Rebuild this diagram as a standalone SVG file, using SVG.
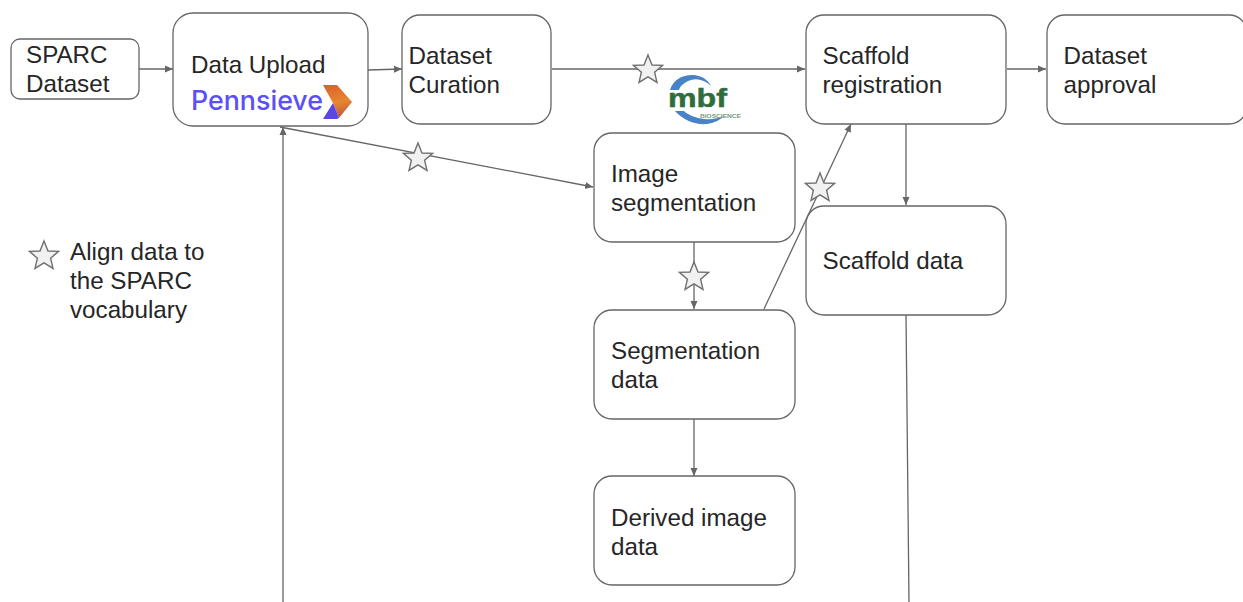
<svg xmlns="http://www.w3.org/2000/svg" width="1243" height="602" viewBox="0 0 1243 602">
<style>
.box{fill:#fff;stroke:#666;stroke-width:1.3}
.t{font-family:"Liberation Sans",Arial,sans-serif;font-size:24.2px;fill:#262626}
.c{fill:none;stroke:#666;stroke-width:1.3}
.star{fill:#f1f1f1;stroke:#707070;stroke-width:1.4}
</style>
<defs>
<marker id="a" markerUnits="userSpaceOnUse" markerWidth="9" markerHeight="9" refX="8" refY="4" orient="auto"><path d="M0 0.5L8 4L0 7.5Z" fill="#666"/></marker>
<polygon id="s" points="0,-15 4,-5 14.6,-4.6 6.6,2.2 9,12.4 0,6.8 -9,12.4 -6.6,2.2 -14.6,-4.6 -4,-5"/>
<linearGradient id="g" x1="0" y1="0" x2="0.2" y2="1"><stop offset="0" stop-color="#d8602c"/><stop offset="0.6" stop-color="#e8862f"/><stop offset="1" stop-color="#c0603f"/></linearGradient>
</defs>
<g id="connectors">
<path class="c" d="M139 69H173" marker-end="url(#a)"/>
<path class="c" d="M368 70L402 69" marker-end="url(#a)"/>
<path class="c" d="M552 69H805" marker-end="url(#a)"/>
<path class="c" d="M1007 69H1046" marker-end="url(#a)"/>
<path class="c" d="M280 127L593 187" marker-end="url(#a)"/>
<path class="c" d="M283 602V127" marker-end="url(#a)"/>
<path class="c" d="M694 242V309" marker-end="url(#a)"/>
<path class="c" d="M694 419V476" marker-end="url(#a)"/>
<path class="c" d="M906 124V205" marker-end="url(#a)"/>
<path class="c" d="M764 309L851 124" marker-end="url(#a)"/>
<path class="c" d="M906 315L909 602"/>
</g>
<g id="sparc-dataset"><rect class="box" x="11" y="39" width="128" height="60" rx="9"/><text class="t" x="26" y="63">SPARC</text><text class="t" x="26" y="92">Dataset</text></g>
<g id="data-upload"><rect class="box" x="173" y="13" width="195" height="113" rx="20"/><text class="t" x="191" y="73">Data Upload</text>
<text x="191" y="110" style="font-family:Inter,'Liberation Sans',sans-serif;font-size:27px;font-weight:500;fill:#5b50f5" textLength="132" lengthAdjust="spacingAndGlyphs">Pennsieve</text>
<path d="M323 85H337L352 102L339 118L333 103Z" fill="url(#g)"/><path d="M323 119L333 103L339 118L337 119Z" fill="#5a45e8"/></g>
<g id="dataset-curation"><rect class="box" x="402" y="15" width="149" height="109" rx="18"/><text class="t" x="408.500" y="64">Dataset</text><text class="t" x="408.500" y="93">Curation</text></g>
<g id="scaffold-registration"><rect class="box" x="806" y="15" width="200" height="109" rx="18"/><text class="t" x="822.500" y="64">Scaffold</text><text class="t" x="822.500" y="93">registration</text></g>
<g id="dataset-approval"><rect class="box" x="1047" y="15" width="200" height="109" rx="18"/><text class="t" x="1063.500" y="64">Dataset</text><text class="t" x="1063.500" y="93">approval</text></g>
<g id="image-segmentation"><rect class="box" x="594" y="133" width="201" height="109" rx="18"/><text class="t" x="611" y="182">Image</text><text class="t" x="611" y="211">segmentation</text></g>
<g id="scaffold-data"><rect class="box" x="806" y="206" width="200" height="109" rx="18"/><text class="t" x="822.500" y="269">Scaffold data</text></g>
<g id="segmentation-data"><rect class="box" x="594" y="310" width="201" height="109" rx="18"/><text class="t" x="611" y="359">Segmentation</text><text class="t" x="611" y="388">data</text></g>
<g id="derived-image-data"><rect class="box" x="594" y="476" width="201" height="109" rx="18"/><text class="t" x="611" y="526">Derived image</text><text class="t" x="611" y="555">data</text></g>
<g id="mbf-logo">
<path d="M670 90C673 80 682 75 692 75C702 75 708 80 711 86C705 80 697 78 691 80C685 82 680 86 679 90Z" fill="#4a82c8"/>
<path d="M675 111C683 120 695 125 707 124C714 123 720 120 724 116C718 118 712 120 704 119C696 118 688 115 684 111Z" fill="#4a82c8"/>
<text x="668" y="107" style="font-family:'Liberation Sans',Arial,sans-serif;font-weight:700;font-size:26px;fill:#2f6e3c;stroke:#2f6e3c;stroke-width:.5" textLength="59" lengthAdjust="spacingAndGlyphs">mbf</text>
<text x="700" y="117.500" style="font-family:'Liberation Sans',Arial,sans-serif;font-weight:700;font-size:5px;fill:#7a9c80" textLength="41" lengthAdjust="spacingAndGlyphs">BIOSCIENCE</text>
</g>
<g id="stars">
<use href="#s" class="star" x="648" y="70"/>
<use href="#s" class="star" x="418" y="158"/>
<use href="#s" class="star" x="820" y="188"/>
<use href="#s" class="star" x="694" y="277"/>
<use href="#s" class="star" x="44" y="256"/>
</g>
<g id="legend"><text class="t" x="70" y="260">Align data to</text><text class="t" x="70" y="289">the SPARC</text><text class="t" x="70" y="318">vocabulary</text></g>
</svg>
